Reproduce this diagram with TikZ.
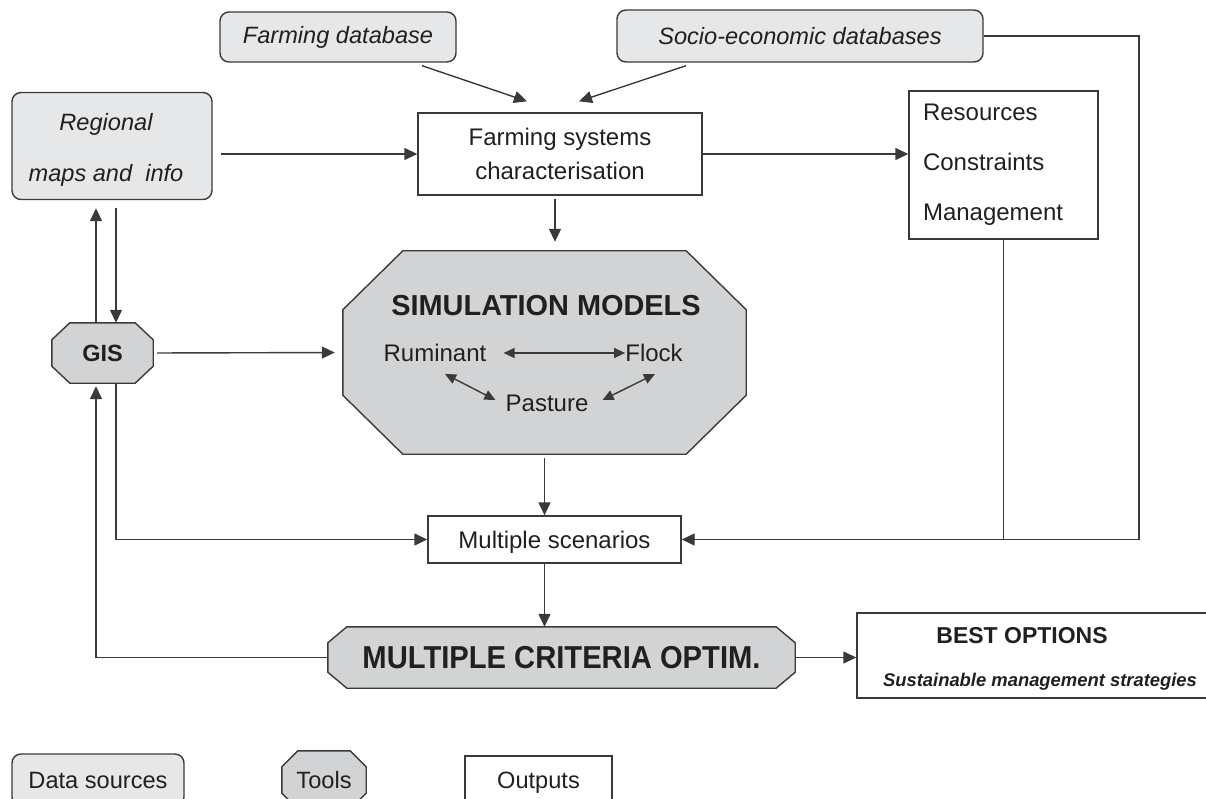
\documentclass[tikz,border=0pt]{standalone}
\usepackage{fontspec}
\setmainfont{Liberation Sans}
\newfontfamily\narrowfont[FakeStretch=0.92]{Liberation Sans}
\usetikzlibrary{arrows.meta}
\definecolor{datafill}{HTML}{E6E7E8}
\definecolor{toolfill}{HTML}{D1D3D4}
\definecolor{linecol}{HTML}{3A3A3A}
\definecolor{txtcol}{HTML}{231F20}
\pgfdeclarelayer{bg}
\pgfsetlayers{bg,main}

\begin{document}
\begin{tikzpicture}[x=1pt,y=-1pt,
    conn/.style={draw=linecol,line width=1.4pt},
    arr/.style={conn,-{Triangle[length=13pt,width=12pt]}},
    darr/.style={conn,{Triangle[length=11pt,width=10pt]}-{Triangle[length=11pt,width=10pt]}},
    datasrc/.style={draw=linecol,line width=1.4pt,fill=datafill,rounded corners=9pt,text=txtcol,inner sep=0pt},
    tool/.style={text=txtcol,inner sep=0pt,text depth=0pt},
    toolshape/.style={draw=linecol,line width=1.4pt,fill=toolfill},
    output/.style={draw=linecol,line width=1.4pt,fill=white,text=txtcol,inner sep=0pt},
    lbl/.style={text=txtcol,inner sep=0pt}]
    \clip (0,0) rectangle (1206,799);

    \node[datasrc,minimum width=236,minimum height=50,font=\fontsize{23.6}{28}\selectfont\itshape] (fdb) at (338,37) {Farming database};
    \node[datasrc,minimum width=366,minimum height=52,font=\fontsize{23.6}{28}\selectfont\itshape] (sdb) at (800,36) {Socio-economic databases};
    \node[datasrc,minimum width=200,minimum height=107] (reg) at (112,146) {};
    \node[lbl,align=center,font=\fontsize{23.6}{51}\selectfont\itshape] (regt) at (106,150) {Regional\\maps and\ \ info};

    \node[output,minimum width=284,minimum height=82,align=center,font=\fontsize{24}{34}\selectfont] (fsc) at (560,154) {Farming systems\\characterisation};
    \node[output,minimum width=189,minimum height=148,text width=161,inner xsep=14,align=left,font=\fontsize{24}{50}\selectfont] (res) at (1003.5,165) {Resources\\Constraints\\Management};
    \node[output,minimum width=253,minimum height=47,text depth=0pt,font=\fontsize{24}{29}\selectfont] (ms) at (554.5,539.5) {Multiple scenarios};
    \node[output,minimum width=353,minimum height=85] (best) at (1033.5,655.5) {};
    \node[lbl,font=\fontsize{23}{28}\selectfont\bfseries] (bestt) at (1022,636) {BEST OPTIONS};
    \node[lbl,font=\fontsize{18.4}{22}\selectfont\bfseries\itshape] (bests) at (1040,682) {Sustainable management strategies};

    \node[tool,minimum width=101,minimum height=60,font=\fontsize{23.5}{28}\selectfont\bfseries] (gis) at (102.5,353) {GIS};
    \node[tool,minimum width=403,minimum height=203] (sim) at (544.5,352.5) {};
    \node[lbl,font=\fontsize{28.9}{34}\selectfont\bfseries] (simt) at (546,306) {SIMULATION MODELS};
    \node[lbl,font=\fontsize{24}{29}\selectfont] (rum) at (435,353) {Ruminant};
    \node[lbl,font=\fontsize{24}{29}\selectfont] (flock) at (654,353) {Flock};
    \node[lbl,font=\fontsize{24}{29}\selectfont] (past) at (547,403) {Pasture};
    \node[tool,minimum width=467,minimum height=61,font=\narrowfont\fontsize{31.7}{36}\selectfont\bfseries] (mco) at (561.5,657.5) {MULTIPLE CRITERIA OPTIM.};

    \node[datasrc,minimum width=172,minimum height=52,font=\fontsize{23.6}{28}\selectfont] (legd) at (98,780) {Data sources};
    \node[tool,minimum width=84,minimum height=58,font=\fontsize{23.6}{28}\selectfont] (legt) at (324,780) {Tools};
    \node[output,minimum width=147,minimum height=48,text depth=0pt,font=\fontsize{23.6}{28}\selectfont] (lego) at (538.5,780) {Outputs};

    \begin{pgfonlayer}{bg}
      \foreach \n/\cx/\cy in {gis/18/17,sim/60/59,mco/19/16,legt/16/16}
        \filldraw[toolshape] ([xshift=\cx pt]\n.north west) -- ([xshift=-\cx pt]\n.north east)
          -- ([yshift=-\cy pt]\n.north east) -- ([yshift=\cy pt]\n.south east)
          -- ([xshift=-\cx pt]\n.south east) -- ([xshift=\cx pt]\n.south west)
          -- ([yshift=\cy pt]\n.south west) -- ([yshift=-\cy pt]\n.north west) -- cycle;
    \end{pgfonlayer}

    \coordinate (upx) at (96,0);
    \coordinate (dnx) at (116,0);
    \coordinate (rx) at (1139,0);
    \coordinate (fscout) at ([xshift=-5pt]fsc.south);

    \draw[arr] ([xshift=84pt,yshift=-3pt]fdb.south) -- ([xshift=-33pt,yshift=11pt]fsc.north);
    \draw[arr] ([xshift=-114pt,yshift=-3pt]sdb.south) -- ([xshift=19pt,yshift=11pt]fsc.north);
    \draw[arr,shorten <=8pt] (fsc.west -| reg.east) -- (fsc.west);
    \draw[arr] (fsc.east) -- (fsc.east -| res.west);
    \draw[arr,shorten <=3pt,shorten >=9pt] (fscout) -- (fscout |- sim.north);
    \draw[arr,shorten <=8pt] (reg.south -| dnx) -- (gis.north -| dnx);
    \draw[arr,shorten >=8pt] (gis.north -| upx) -- (reg.south -| upx);
    \draw[arr,shorten <=4pt,shorten >=8pt] (gis.east) -- (sim.west);
    \draw[arr,shorten <=4pt] (sim.south) -- (sim.south |- ms.north);
    \draw[arr] (sim.south |- ms.south) -- (sim.south |- mco.north);
    \draw[arr,shorten <=1pt] (mco.east) -- (mco.east -| best.west);
    \draw[arr,shorten >=3pt] (mco.west) -- (mco.west -| upx) -- (gis.south -| upx);
    \draw[arr] (gis.south -| dnx) -- (ms.west -| dnx) -- (ms.west);
    \draw[arr] (sdb.east) -- (sdb.east -| rx) -- (ms.east -| rx) -- (ms.east);
    \draw[conn] (res.south) -- (res.south |- ms.east);

    \draw[darr,shorten <=17pt] (rum.east) -- (flock.west);
    \draw[darr] ([xshift=10pt,yshift=-12pt]rum.south) -- ([xshift=-10pt,yshift=3pt]past.west);
    \draw[darr] ([xshift=1pt,yshift=-12pt]flock.south) -- ([xshift=14pt,yshift=3pt]past.east);
\end{tikzpicture}
\end{document}
